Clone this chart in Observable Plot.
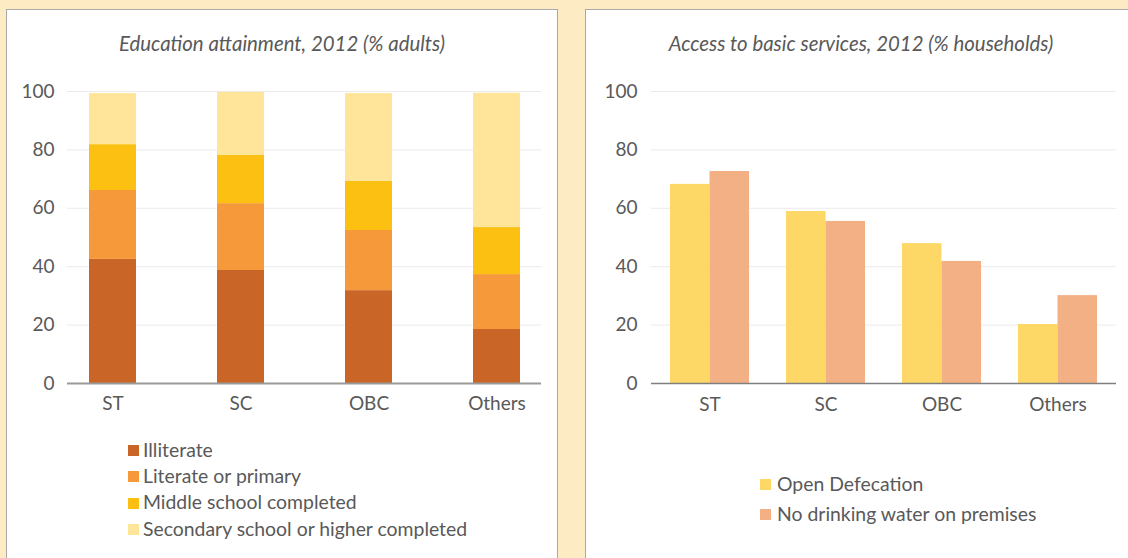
<!DOCTYPE html>
<html>
<head>
<meta charset="utf-8">
<script src="https://cdn.jsdelivr.net/npm/d3@7"></script>
<script src="https://cdn.jsdelivr.net/npm/@observablehq/plot@0.6"></script>
<style>
  html, body { margin: 0; padding: 0; }
  body { width: 1128px; height: 558px; overflow: hidden; background: #fdebc3; position: relative; font-family: Lato, "Liberation Sans", sans-serif; color: #595959; }
  .panel { position: absolute; top: 9px; height: 600px; background: #fff; border: 1px solid #a9a9a9; box-sizing: border-box; }
  .title { position: absolute; left: 0; width: 550px; top: 20px; text-align: center; font-style: italic; font-size: 20.4px; line-height: 26px; }
  .plot { position: absolute; left: 0; top: 0; }
  .legend { position: absolute; font-size: 19.4px; }
  .legend .row { display: flex; align-items: center; white-space: nowrap; }
  .legend .sw { width: 11px; height: 11px; margin-top: 3px; flex: none; }
</style>
</head>
<body>
<div class="panel" id="left" style="left:6px; width:552px;">
  <div class="title">Education attainment, 2012 (% adults)</div>
  <div class="plot" id="plotL"></div>
  <div class="legend" id="legL" style="left:121px; top:426px;"></div>
</div>
<div class="panel" id="right" style="left:585px; width:600px;">
  <div class="title">Access to basic services, 2012 (% households)</div>
  <div class="plot" id="plotR"></div>
  <div class="legend" id="legR" style="left:174px; top:458px;"></div>
</div>
<script>
// ---- data ----
const categories = ["ST", "SC", "OBC", "Others"];
const yTicks = [0, 20, 40, 60, 80, 100];

const eduSeries = ["Illiterate", "Literate or primary", "Middle school completed", "Secondary school or higher completed"];
const illiterate = [42.5, 38.7, 31.8, 18.5];
const literatePrimary = [23.6, 22.9, 20.6, 18.8];
const middleSchool = [15.7, 16.5, 16.8, 16.1];
const secondaryHigher = [17.5, 21.6, 30.1, 46.0];
const eduColors = ["#c96527", "#f5993a", "#fcc012", "#fee599"];

const svcSeries = ["Open Defecation", "No drinking water on premises"];
const openDefecation = [68.2, 58.9, 47.9, 20.2];
const noDrinkingWater = [72.6, 55.5, 41.8, 30.1];
const svcColors = ["#fdd867", "#f2b084"];

// ---- tables ----
const eduValues = [illiterate, literatePrimary, middleSchool, secondaryHigher];
const eduData = [];
eduSeries.forEach((s, i) => categories.forEach((c, j) => eduData.push({category: c, series: s, value: eduValues[i][j]})));

const svcValues = [openDefecation, noDrinkingWater];
const svcData = [];
svcSeries.forEach((s, i) => categories.forEach((c, j) => svcData.push({category: c, series: s, value: svcValues[i][j]})));

const baseStyle = {fontFamily: "Lato, 'Liberation Sans', sans-serif", fontSize: "19px", color: "#595959", background: "transparent", overflow: "visible"};

// ---- left: stacked ----
const L = {width: 550, height: 430, ml: 60, mr: 16, mt: 81, mb: 57};
const plotL = Plot.plot({
  width: L.width, height: L.height,
  marginLeft: L.ml, marginRight: L.mr, marginTop: L.mt, marginBottom: L.mb,
  style: baseStyle,
  x: {domain: categories, paddingInner: 0.633, paddingOuter: 0.155, label: null, tickSize: 0, tickPadding: 13},
  y: {domain: [0, 100], ticks: yTicks, label: null, tickSize: 0, tickPadding: 13},
  color: {domain: eduSeries, range: eduColors},
  marks: [
    Plot.ruleY(yTicks.filter(d => d > 0), {stroke: "#ebebeb", strokeWidth: 1}),
    Plot.barY(eduData, {x: "category", y: "value", fill: "series"}),
    Plot.ruleY([0], {stroke: "#9a9a9a", strokeWidth: 2})
  ]
});
document.getElementById("plotL").appendChild(plotL);

// ---- right: grouped ----
const R = {width: 560, height: 430, ml: 65, mr: 30, mt: 81, mb: 57};
const pI = 0.319, pO = 0.163;
const stepR = (R.width - R.ml - R.mr) / (categories.length - pI + 2 * pO);
const half = stepR * (1 - pI) / 2;
const plotR = Plot.plot({
  width: R.width, height: R.height,
  marginLeft: R.ml, marginRight: R.mr, marginTop: R.mt, marginBottom: R.mb,
  style: baseStyle,
  x: {domain: categories, paddingInner: pI, paddingOuter: pO, label: null, tickSize: 0, tickPadding: 14},
  y: {domain: [0, 100], ticks: yTicks, label: null, tickSize: 0, tickPadding: 14},
  color: {domain: svcSeries, range: svcColors},
  marks: [
    Plot.ruleY(yTicks.filter(d => d > 0), {stroke: "#ebebeb", strokeWidth: 1}),
    Plot.barY(svcData.filter(d => d.series === svcSeries[0]), {x: "category", y: "value", fill: "series", insetRight: half}),
    Plot.barY(svcData.filter(d => d.series === svcSeries[1]), {x: "category", y: "value", fill: "series", insetLeft: half}),
    Plot.ruleY([0], {stroke: "#7f7f7f", strokeWidth: 1.5})
  ]
});
document.getElementById("plotR").appendChild(plotR);

// ---- legends ----
function legend(el, names, colors, lh, gap) {
  names.forEach((n, i) => {
    const row = document.createElement("div");
    row.className = "row";
    row.style.height = lh + "px";
    const sw = document.createElement("span");
    sw.className = "sw";
    sw.style.background = colors[i];
    const tx = document.createElement("span");
    tx.textContent = n;
    tx.style.marginLeft = gap + "px";
    row.appendChild(sw); row.appendChild(tx);
    el.appendChild(row);
  });
}
legend(document.getElementById("legL"), eduSeries, eduColors, 26.3, 4);
legend(document.getElementById("legR"), svcSeries, svcColors, 30, 6);
</script>
</body>
</html>
